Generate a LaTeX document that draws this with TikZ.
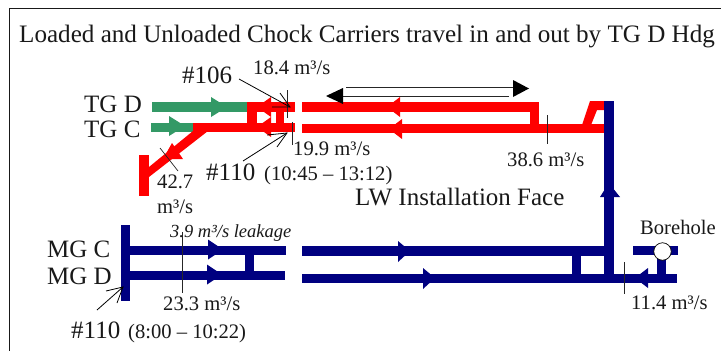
\documentclass[tikz,border=0pt]{standalone}
\usepackage{fontspec}
\setmainfont{Liberation Serif}
\definecolor{redp}{RGB}{255,0,0}
\definecolor{greenp}{RGB}{51,153,102}
\definecolor{bluep}{RGB}{0,0,128}
\newcommand{\pipe}[5]{\fill[#1] (#2,#3) rectangle (#4,#5);}
\newcommand{\headR}[4]{\fill[#1] (#2,#4-10) -- (#3,#4) -- (#2,#4+10) -- cycle;}
\tikzset{
  lab/.style={anchor=base west,inner sep=0pt,text=black!90},
  big/.style={font=\fontsize{25}{28}\selectfont},
  mid/.style={font=\fontsize{20.6}{24}\selectfont},
  tick/.style={draw=black!85,line width=0.7pt},
  lead/.style={draw=black,line width=0.8pt},
  frameln/.style={draw=black!90,line width=1.8pt},
}
\begin{document}
\begin{tikzpicture}[x=1pt,y=-1pt]
\useasboundingbox (0,0) rectangle (721,351);
\fill[white] (0,0) rectangle (721,351);
% frame
\draw[frameln] (9.5,351) -- (9.5,8.5) -- (721,8.5);
% title
\node[lab,font=\fontsize{25.1}{28}\selectfont] (title) at (19,42) {Loaded and Unloaded Chock Carriers travel in and out by TG D Hdg};
% green
\pipe{greenp}{152}{102}{247}{112}
\pipe{greenp}{151}{122.5}{193}{132}
\headR{greenp}{211}{227}{107}
\headR{greenp}{169}{185}{126}
% red left
\pipe{redp}{247}{102}{295}{112}
\pipe{redp}{193}{122.5}{295}{132}
\pipe{redp}{247}{102}{257}{132}
\pipe{redp}{276}{102}{284}{132}
\fill[redp] (149,167) -- (193,131) -- (208,131) -- (149,177) -- cycle;
\pipe{redp}{139}{155}{149}{196}
\fill[redp] (172,143) -- (163,159) -- (183,159) -- cycle;
\fill[redp] (257,107) -- (271,97) -- (271,117) -- cycle;
\fill[redp] (257,127) -- (271,117) -- (271,137) -- cycle;
% red right
\pipe{redp}{302}{102}{539}{112}
\pipe{redp}{302}{123.5}{604}{133}
\pipe{redp}{530}{102}{539}{133}
\fill[redp] (582,125) -- (590,101) -- (604,101) -- (604,110) -- (597,110) -- (591,125) -- cycle;
\fill[redp] (387,107) -- (400,97) -- (400,117) -- cycle;
\fill[redp] (389,129) -- (402,119) -- (402,139) -- cycle;
% blue left
\pipe{bluep}{121}{225}{130}{301}
\pipe{bluep}{130}{246}{286}{255}
\pipe{bluep}{130}{271}{285}{280}
\pipe{bluep}{245}{255}{254}{271}
\headR{bluep}{208}{223}{249.5}
\headR{bluep}{207}{222}{274.5}
% blue right
\pipe{bluep}{302}{246}{604}{256}
\pipe{bluep}{302}{273.5}{677}{283}
\pipe{bluep}{604}{101}{613.5}{283}
\pipe{bluep}{572}{256}{581}{274}
\pipe{bluep}{633}{246}{678}{255}
\pipe{bluep}{657}{258}{666}{274}
\fill[bluep] (398,241) -- (410,251) -- (398,262) -- cycle;
\fill[bluep] (423,268) -- (435,278) -- (423,289) -- cycle;
\fill[bluep] (608.75,183) -- (620,197) -- (600,197) -- cycle;
\fill[bluep] (635,278) -- (648,268) -- (648,288) -- cycle;
\node[circle,draw=black,fill=white,line width=0.7pt,minimum size=17.5pt,inner sep=0pt] (bh) at (662.5,251.5) {};
% travel arrows
\coordinate (ta) at (346,87);
\coordinate (tb) at (513,87);
\coordinate (tc) at (509,96);
\coordinate (td) at (343,96);
\draw[draw=black!85,line width=0.8pt] (ta) -- (tb);
\draw[draw=black!85,line width=0.8pt] (tc) -- (td);
\fill[black] (513,80) -- (529,88.5) -- (513,97) -- cycle;
\fill[black] (343,88) -- (326,96) -- (343,104) -- cycle;
% ticks
\draw[tick] (287,90) -- (287,118);
\draw[tick] (292,122) -- (292,145);
\draw[tick] (160,148) -- (178,171);
\draw[tick] (547,115) -- (547,144);
\draw[tick] (182,232) -- (182,293);
\draw[tick] (624,262) -- (624,294);
% labels
\node[lab,big] (n106) at (182,83) {\#106};
\node[lab,mid] (l184) at (253,74) {18.4 m³/s};
\node[lab,big] (tgd) at (84,112) {TG D};
\node[lab,big] (tgc) at (84,137) {TG C};
\node[lab,mid] (l199) at (293,155) {19.9 m³/s};
\node[lab,big] (n110a) at (206,180) {\#110};
\node[lab,mid] (t110a) at (264,180) {(10:45 – 13:12)};
\node[lab,mid] (l427) at (157,188) {42.7};
\node[lab,mid] (l427u) at (157,213) {m³/s};
\node[lab,mid] (l386) at (507,166) {38.6 m³/s};
\node[lab,big] (lw) at (355,205) {LW Installation Face};
\node[lab,big] (mgc) at (47,257) {MG C};
\node[lab,big] (mgd) at (47,284) {MG D};
\node[lab,font=\fontsize{18.5}{21}\selectfont\itshape] (leak) at (170,237) {3.9 m³/s leakage};
\node[lab,mid] (l233) at (163,310) {23.3 m³/s};
\node[lab,big] (n110b) at (71,338) {\#110};
\node[lab,mid] (t110b) at (128,338) {(8:00 – 10:22)};
\node[lab,mid] (bhl) at (640,234) {Borehole};
\node[lab,mid] (l114) at (631,309) {11.4 m³/s};
% leaders
\coordinate (p106) at (290,107);
\coordinate (p110a) at (287,133);
\coordinate (p110b) at (123,287);
\coordinate (s106) at (239,79);
\coordinate (s110a) at (243,161);
\coordinate (s110b) at (97,310);
\draw[lead] (s106) -- (p106);
\draw[lead] (280,93) -- (p106) -- (272,107);
\draw[lead] (s110a) -- (p110a);
\draw[lead] (277,147) -- (p110a) -- (267,135);
\draw[lead] (s110b) -- (p110b);
\draw[lead] (106,291) -- (p110b) -- (117,303);
\end{tikzpicture}
\end{document}
